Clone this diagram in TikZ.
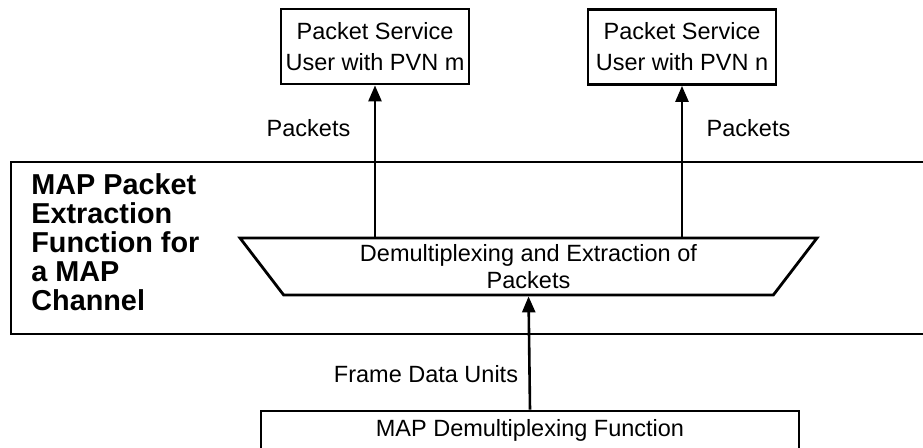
\documentclass[tikz,border=0pt]{standalone}
\usepackage{fontspec}
\setmainfont{Liberation Sans}
\usetikzlibrary{shapes,arrows.meta,positioning}
\tikzstyle{user}=[rectangle,draw=black,line width=1.4pt,inner sep=0pt,
minimum width=94pt,minimum height=37.5pt,align=center]
\tikzstyle{demux}=[trapezium,shape border rotate=180,trapezium angle=45,
trapezium stretches body,draw=black,line width=1.4pt,inner sep=0pt,
minimum width=288.5pt,minimum height=28.5pt,align=center,
font=\fontsize{11.75}{13.2}\selectfont]
\tikzstyle{panel}=[rectangle,draw=black,line width=1.4pt,inner sep=0pt,
minimum width=464.5pt,minimum height=86pt]
\tikzstyle{func}=[rectangle,draw=black,line width=1.4pt,inner sep=0pt,
minimum width=269pt,minimum height=19pt]
\tikzstyle{title}=[inner sep=0pt,align=left,
font=\fontsize{14.4}{14.5}\selectfont\bfseries]
\tikzstyle{flow}=[->,line width=1.3pt]

\begin{document}
\begin{tikzpicture}[x=0.5pt,y=-0.5pt,>={Triangle[length=8pt,width=6.5pt]},
    font=\fontsize{11.75}{15.5}\selectfont]
    \useasboundingbox (0,0) rectangle (923,448);
    \clip (0,0) rectangle (923,448);

    \node[panel] (panel) at (475.5,248) {};
    \node[title,anchor=north west] (title) at (31,173)
      {MAP Packet\\Extraction\\Function for\\a MAP\\Channel};

    \node[user] (userm) at (375,46.5) {Packet Service\\User with PVN m};
    \node[user] (usern) at (682,47) {Packet Service\\User with PVN n};

    \node[demux] (demux) at (528.5,266.5) {Demultiplexing and Extraction of\\Packets};
    \node[func] (mapdemux) at (530,430) {MAP Demultiplexing Function};

    \node (pktm) at (308.5,128) {Packets};
    \node (pktn) at (748.5,128) {Packets};
    \node (fdu) at (426,374) {Frame Data Units};

    \draw[flow] (demux.north -| userm) -- (userm.south);
    \draw[flow] (demux.north -| usern) -- (usern.south);
    \draw[flow] (mapdemux.north) -- (demux.south);
\end{tikzpicture}
\end{document}
